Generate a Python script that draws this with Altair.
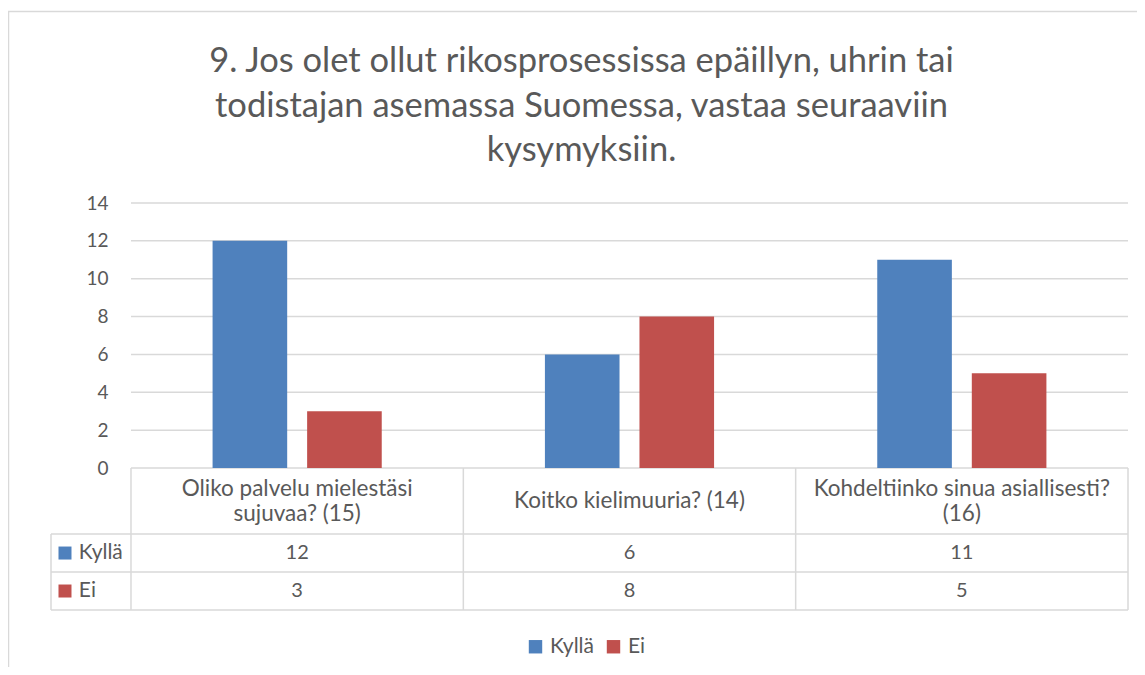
import altair as alt
import pandas as pd

# ---- data ----
categories = [
    "Oliko palvelu mielestäsi\nsujuvaa? (15)",
    "Koitko kielimuuria? (14)",
    "Kohdeltiinko sinua asiallisesti?\n(16)",
]
series = ["Kyllä", "Ei"]
kylla = [12, 6, 11]
ei = [3, 8, 5]
y_ticks = [0, 2, 4, 6, 8, 10, 12, 14]
colors = ["#4f81bd", "#c0504d"]
title_lines = [
    "9. Jos olet ollut rikosprosessissa epäillyn, uhrin tai",
    "todistajan asemassa Suomessa, vastaa seuraaviin",
    "kysymyksiin.",
]

# ---- layout / style ----
TEXT = "#595959"
LINE = "#d9d9d9"
FONT = "Lato"
W, H = 1077, 407
X0 = -0.2407          # left edge of the table's label column (category units)
Y_MIN, Y_MAX = -7.50, 14
PX_PER_UNIT = H / (Y_MAX - Y_MIN)
ROW_TOP, ROW_HEAD, ROW_MID, ROW_BOT = 0, -3.487, -5.494, Y_MIN
BAR_OFF = {"Kyllä": 0.2455, "Ei": 0.530}
BAR_W = 0.2245
HEAD_LH = 25
n = len(categories)

xs = alt.Scale(domain=[X0, n], nice=False, zero=False)
ys = alt.Scale(domain=[Y_MIN, Y_MAX], nice=False, zero=False)
cs = alt.Scale(domain=series, range=colors)
yaxis = alt.Axis(
    values=y_ticks, offset=-80, domain=False, ticks=False, grid=False,
    labelPadding=23, labelFont=FONT, labelFontSize=19, labelColor=TEXT, title=None,
)

legend = alt.Legend(
    orient="none", legendX=474, legendY=433, direction="horizontal", title=None,
    symbolType="square", symbolSize=180, symbolStrokeWidth=0,
    labelFont=FONT, labelFontSize=21, labelColor=TEXT,
    columnPadding=9, labelOffset=4, padding=0,
)

rows = []
for i, c in enumerate(categories):
    rows.append({"idx": i, "cat": c, "series": "Kyllä", "value": kylla[i]})
    rows.append({"idx": i, "cat": c, "series": "Ei", "value": ei[i]})
df = pd.DataFrame(rows)

row_center = {"Kyllä": (ROW_HEAD + ROW_MID) / 2, "Ei": (ROW_MID + ROW_BOT) / 2}
df["row_y"] = df["series"].map(row_center)
df["cx"] = df["idx"] + 0.5
df["bx"] = df["idx"] + df["series"].map(BAR_OFF)
df["bx2"] = df["bx"] + BAR_W

base = alt.Chart(df)

# frame border
border = alt.Chart(pd.DataFrame({"k": [0]})).mark_rect(
    fill="transparent", stroke=LINE, strokeWidth=1.5
).encode(x=alt.value(-42.5), x2=alt.value(W + 200), y=alt.value(-191.5), y2=alt.value(H + 200))

# title
title = alt.Chart(pd.DataFrame({"t": ["\n".join(title_lines)]})).mark_text(
    font=FONT, fontSize=34.5, color=TEXT, lineBreak="\n", lineHeight=44.5,
    align="center", baseline="alphabetic",
).encode(x=alt.value(530.5), y=alt.value(-131), text="t:N")

# gridlines
grid_df = pd.DataFrame({"y": y_ticks[1:]})
grid = alt.Chart(grid_df).mark_rule(color=LINE, strokeWidth=1.5).encode(
    x=alt.datum(0, scale=xs, axis=None),
    x2=alt.datum(n),
    y=alt.Y("y:Q", scale=ys, axis=yaxis),
)

# table lines
segs = [
    {"x": 0, "x2": n, "y": ROW_TOP, "y2": ROW_TOP},
    {"x": X0, "x2": n, "y": ROW_HEAD, "y2": ROW_HEAD},
    {"x": X0, "x2": n, "y": ROW_MID, "y2": ROW_MID},
    {"x": X0, "x2": n, "y": ROW_BOT, "y2": ROW_BOT},
    {"x": X0, "x2": X0, "y": ROW_HEAD, "y2": ROW_BOT},
]
for k in range(n + 1):
    segs.append({"x": k, "x2": k, "y": ROW_TOP, "y2": ROW_BOT})
table_lines = alt.Chart(pd.DataFrame(segs)).mark_rule(color=LINE, strokeWidth=1.5).encode(
    x=alt.X("x:Q", scale=xs, axis=None), x2="x2:Q",
    y=alt.Y("y:Q", scale=ys, axis=yaxis), y2="y2:Q",
)

bars = base.mark_bar().encode(
    x=alt.X("bx:Q", scale=xs, axis=None),
    x2="bx2:Q",
    y=alt.Y("value:Q", scale=ys, axis=yaxis),
    y2=alt.datum(0),
    color=alt.Color("series:N", scale=cs, legend=legend, sort=series),
)

# header texts (multi-line blocks centred in the header row)
head_df = pd.DataFrame({"cat": categories, "cx": [i + 0.5 for i in range(n)]})
head_df["nl"] = head_df["cat"].str.count("\n")
head_df["hy"] = (ROW_TOP + ROW_HEAD) / 2 + head_df["nl"] * HEAD_LH / 2 / PX_PER_UNIT
headers = alt.Chart(head_df).mark_text(
    font=FONT, fontSize=22.5, color=TEXT, lineBreak="\n", lineHeight=HEAD_LH,
    baseline="middle", align="center",
).encode(
    x=alt.X("cx:Q", scale=xs, axis=None), y=alt.Y("hy:Q", scale=ys, axis=yaxis), text="cat:N"
)

values = base.mark_text(font=FONT, fontSize=20, color=TEXT, baseline="middle", align="center").encode(
    x=alt.X("cx:Q", scale=xs, axis=None), y=alt.Y("row_y:Q", scale=ys, axis=yaxis), text="value:Q"
)

lab_df = pd.DataFrame({"series": series, "row_y": [row_center[s] for s in series]})
keys = alt.Chart(lab_df).mark_point(shape="square", filled=True, size=169, opacity=1).encode(
    x=alt.datum(-0.1986, scale=xs, axis=None),
    y=alt.Y("row_y:Q", scale=ys, axis=yaxis),
    color=alt.Color("series:N", scale=cs, legend=legend, sort=series),
)
key_labels = alt.Chart(lab_df).mark_text(
    font=FONT, fontSize=21, color=TEXT, baseline="middle", align="left"
).encode(
    x=alt.datum(-0.157, scale=xs, axis=None),
    y=alt.Y("row_y:Q", scale=ys, axis=yaxis),
    text="series:N",
)

chart = alt.layer(grid, table_lines, bars, headers, values, keys, key_labels, border, title).properties(
    width=W, height=H,
    background="white",
    autosize=alt.AutoSizeParams(type="none"),
    padding={"left": 43, "top": 195, "right": 9, "bottom": 57},
).configure_view(strokeWidth=0, stroke="transparent")

chart.save("out.html", embed_options={"renderer": "svg", "actions": False})
